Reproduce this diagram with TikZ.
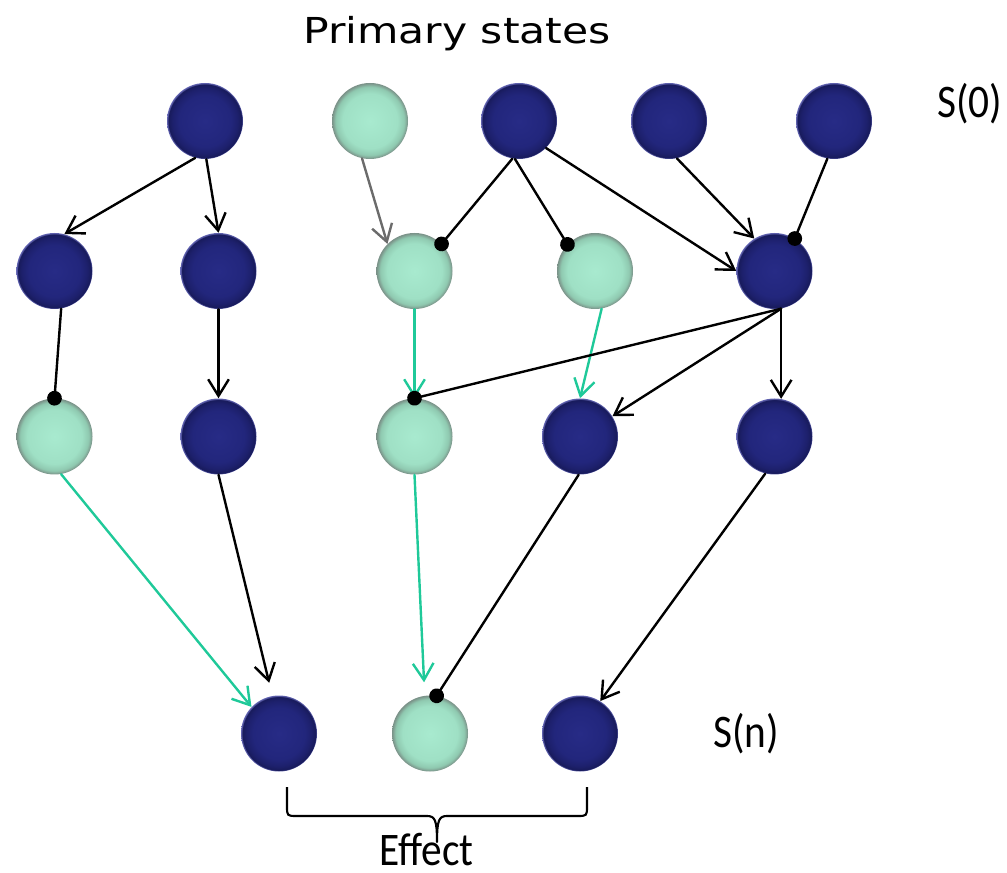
\documentclass[tikz,border=0pt]{standalone}
\usepackage{fontspec}
\setmainfont{Carlito}
\newfontfamily\titlefont{DejaVu Sans}
\usetikzlibrary{arrows.meta}

\definecolor{navyA}{HTML}{272B86}
\definecolor{navyB}{HTML}{22267C}
\definecolor{navyC}{HTML}{1D206C}
\definecolor{navyD}{HTML}{181B5C}
\definecolor{navyHalo}{HTML}{6A6CBA}
\definecolor{mintA}{HTML}{A8EACF}
\definecolor{mintB}{HTML}{9FE0C5}
\definecolor{mintC}{HTML}{8FC9B0}
\definecolor{mintD}{HTML}{7A9087}
\definecolor{linkgreen}{HTML}{1FC999}
\definecolor{linkgray}{HTML}{6B6B6B}

\pgfdeclareradialshading{darkball}{\pgfpoint{0bp}{0bp}}{%
  color(0bp)=(navyA); color(17bp)=(navyB); color(21.5bp)=(navyC);
  color(24bp)=(navyD); color(25bp)=(navyHalo); color(50bp)=(navyHalo)}
\pgfdeclareradialshading{lightball}{\pgfpoint{0bp}{0bp}}{%
  color(0bp)=(mintA); color(18bp)=(mintB); color(22.5bp)=(mintC);
  color(25bp)=(mintD); color(50bp)=(mintD)}

% tall, narrow label text
\newcommand{\tallsans}[1]{\scalebox{1}[1.13]{#1}}

\tikzset{
  state/.style={circle, minimum size=57pt, inner sep=0pt},
  darkst/.style={state, shade, shading=darkball},
  lightst/.style={state, shade, shading=lightball},
  link/.style={line width=1.8pt, line cap=round},
  arr/.style={link, -{Straight Barb[length=12.5pt,width=15.5pt]}},
  dotend/.style={link, -{Circle[length=11pt]}, shorten >=-5.5pt},
  greenlink/.style={draw=linkgreen},
  graylink/.style={draw=linkgray},
  label/.style={inner sep=0pt, anchor=base, font=\fontsize{31}{31}\selectfont},
}

\begin{document}
\begin{tikzpicture}[x=0.75pt, y=-0.75pt]
\useasboundingbox (0,0) rectangle (1007,873);

% title and level labels
\node[inner sep=0pt, anchor=base, font=\titlefont\fontsize{26.8}{26.8}\selectfont]
  (title) at (457,44) {\scalebox{1.19}[1]{Primary states}};
\node[label, anchor=base west] (s0) at (937,118) {\tallsans{S(0)}};
\node[label, anchor=base west] (sn) at (713,747) {\tallsans{S(n)}};

% level 0
\node[darkst]  (A0) at (205,121) {};
\node[lightst] (A1) at (370,121) {};
\node[darkst]  (A2) at (519,121) {};
\node[darkst]  (A3) at (669,121) {};
\node[darkst]  (A4) at (834,121) {};
% level 1
\node[darkst]  (B0) at (54.5,271) {};
\node[darkst]  (B1) at (218.5,271) {};
\node[lightst] (B2) at (414.5,271) {};
\node[lightst] (B3) at (595,271) {};
\node[darkst]  (B4) at (774.5,271) {};
% level 2
\node[lightst] (C0) at (54.5,436.5) {};
\node[darkst]  (C1) at (218.5,436.5) {};
\node[lightst] (C2) at (414.5,436.5) {};
\node[darkst]  (C3) at (580,436.5) {};
\node[darkst]  (C4) at (774.5,436.5) {};
% level n
\node[darkst]  (D0) at (279,733.5) {};
\node[lightst] (D1) at (430,733.5) {};
\node[darkst]  (D2) at (580,733.5) {};

% level 0 -> level 1
\draw[arr] (A0.-105) -- (B0.75);
\draw[arr] (A0.-88) -- (B1.north);
\draw[arr, graylink] (A1.-102) -- (B2.135);
\draw[dotend] (A2.-100) -- (B2.45);
\draw[dotend] (A2.-96) -- (B3.136);
\draw[arr] (A2.-45) -- (B4.west);
\draw[arr] (A3.-78) -- (B4.122);
\draw[dotend] (A4.-100) -- (B4.58);

% level 1 -> level 2
\draw[dotend] (B0.-80) -- (C0.north);
\draw[arr] (B1.south) -- (C1.north);
\draw[arr, greenlink] (B2.south) -- (C2.north);
\draw[arr, greenlink] (B3.-80) -- (C3.north);
\draw[dotend] (B4.-80) -- (C2.north);
\draw[arr] (B4.-80) -- (C3.32);
\draw[arr] (B4.-80) -- (C4.80);

% level 2 -> level n
\draw[arr, greenlink] (C0.-80) -- (D0.136);
\draw[arr, shorten >=10pt] (C1.south) -- (D0.100);
\draw[arr, greenlink, shorten >=10pt] (C2.south) -- (D1.98);
\draw[dotend] (C3.-92) -- (D1.80);
\draw[arr] (C4.-104) -- (D2.58);

% brace under the last level
\draw[line width=1.6pt, line join=round]
  (287,787) -- (287,806) .. controls (287,816) .. (297,816) -- (427,816)
  .. controls (435,816) and (437,820) .. (437,842)
  .. controls (437,820) and (439,816) .. (447,816) -- (577,816)
  .. controls (587,816) .. (587,806) -- (587,787);
\node[label] (effect) at (426.5,865) {\tallsans{Effect}};
\end{tikzpicture}
\end{document}
